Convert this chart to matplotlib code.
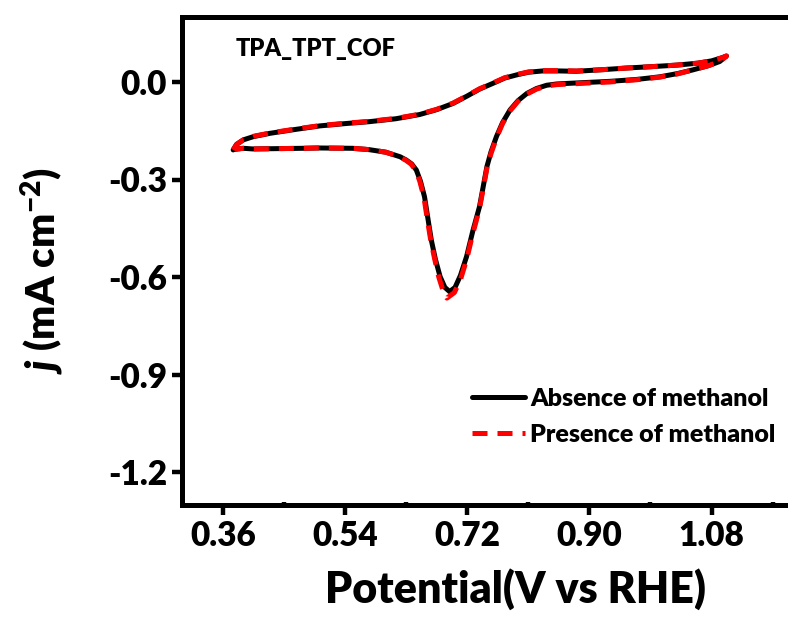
import matplotlib
matplotlib.use("Agg")
import matplotlib.pyplot as plt
from matplotlib.ticker import MultipleLocator, FormatStrFormatter

plt.rcParams['font.family'] = ['Lato', 'DejaVu Sans']
plt.rcParams['font.weight'] = 'heavy'
plt.rcParams['mathtext.fontset'] = 'custom'
plt.rcParams['mathtext.rm'] = 'Lato:heavy'
plt.rcParams['mathtext.it'] = 'Lato:italic:heavy'
plt.rcParams['mathtext.bf'] = 'Lato:heavy'
plt.rcParams['axes.unicode_minus'] = False

# Cyclic voltammogram of TPA_TPT_COF (potential in V vs RHE, current density in mA cm^-2)
potential_absence = [
    0.375, 0.380, 0.390, 0.405, 0.429, 0.460, 0.503, 0.540, 0.576, 0.615,
    0.650, 0.675, 0.699, 0.720, 0.738, 0.758, 0.775, 0.793, 0.810, 0.831,
    0.855, 0.881, 0.920, 0.955, 0.990, 1.029, 1.060, 1.080, 1.096, 1.102,
    1.092, 1.075, 1.052, 1.030, 1.004, 0.970, 0.930, 0.900, 0.871, 0.852,
    0.837, 0.822, 0.808, 0.795, 0.783, 0.772, 0.763, 0.755, 0.749, 0.738,
    0.728, 0.719, 0.710, 0.702, 0.694, 0.687, 0.680, 0.673, 0.667, 0.662,
    0.657, 0.651, 0.645, 0.638, 0.630, 0.621, 0.600, 0.575, 0.551, 0.500,
    0.478, 0.440, 0.404, 0.390, 0.378,
]
current_absence = [
    -0.209, -0.192, -0.178, -0.168, -0.158, -0.148, -0.135, -0.128, -0.122, -0.113,
    -0.100, -0.085, -0.066, -0.043, -0.022, -0.004, 0.012, 0.022, 0.030, 0.034,
    0.034, 0.033, 0.038, 0.043, 0.047, 0.052, 0.058, 0.065, 0.075, 0.080,
    0.063, 0.050, 0.037, 0.026, 0.016, 0.008, 0.002, -0.001, -0.004, -0.006,
    -0.010, -0.020, -0.035, -0.057, -0.086, -0.125, -0.168, -0.215, -0.260, -0.384,
    -0.460, -0.537, -0.595, -0.632, -0.645, -0.632, -0.599, -0.545, -0.486, -0.420,
    -0.353, -0.305, -0.271, -0.252, -0.240, -0.230, -0.216, -0.208, -0.204, -0.203,
    -0.204, -0.205, -0.206, -0.204, -0.207,
]

potential_presence = [
    0.375, 0.380, 0.390, 0.405, 0.429, 0.460, 0.503, 0.540, 0.576, 0.615,
    0.650, 0.675, 0.699, 0.720, 0.738, 0.758, 0.775, 0.793, 0.810, 0.831,
    0.855, 0.881, 0.920, 0.955, 0.990, 1.029, 1.060, 1.080, 1.096, 1.102,
    1.092, 1.075, 1.052, 1.030, 1.004, 0.970, 0.930, 0.900, 0.871, 0.852,
    0.837, 0.822, 0.808, 0.795, 0.783, 0.772, 0.763, 0.755, 0.749, 0.738,
    0.728, 0.719, 0.710, 0.701, 0.690, 0.684, 0.678, 0.672, 0.666, 0.661,
    0.656, 0.650, 0.644, 0.637, 0.629, 0.620, 0.600, 0.575, 0.551, 0.500,
    0.478, 0.440, 0.404, 0.390, 0.378,
]
current_presence = [
    -0.209, -0.192, -0.178, -0.167, -0.157, -0.147, -0.134, -0.127, -0.121, -0.112,
    -0.099, -0.084, -0.065, -0.042, -0.021, -0.003, 0.013, 0.023, 0.031, 0.035,
    0.035, 0.034, 0.038, 0.043, 0.047, 0.052, 0.058, 0.065, 0.075, 0.080,
    0.063, 0.050, 0.037, 0.025, 0.015, 0.007, 0.000, -0.003, -0.006, -0.008,
    -0.012, -0.022, -0.037, -0.059, -0.089, -0.128, -0.172, -0.220, -0.265, -0.390,
    -0.468, -0.547, -0.608, -0.648, -0.665, -0.640, -0.600, -0.545, -0.485, -0.420,
    -0.353, -0.305, -0.271, -0.252, -0.240, -0.230, -0.216, -0.208, -0.204, -0.203,
    -0.204, -0.205, -0.206, -0.204, -0.207,
]

x_ticks = [0.36, 0.54, 0.72, 0.90, 1.08]
y_ticks = [0.0, -0.3, -0.6, -0.9, -1.2]

fig = plt.figure(figsize=(7.88, 6.25), dpi=100)
ax = fig.add_axes([0.2313, 0.1928, 0.775, 0.78])

ax.plot(potential_absence, current_absence, color='black', lw=3.6,
        solid_joinstyle='round', solid_capstyle='round', label='Absence of methanol')
ax.plot(potential_presence, current_presence, color='#ff0000', lw=3.6,
        dashes=(3, 2), dash_capstyle='butt', label='Presence of methanol')

ax.set_xlim(0.30, 1.20)
ax.set_ylim(-1.30, 0.20)
ax.set_xticks(x_ticks)
ax.set_yticks(y_ticks)
ax.xaxis.set_minor_locator(MultipleLocator(0.09))
ax.yaxis.set_minor_locator(MultipleLocator(0.15))
ax.xaxis.set_major_formatter(FormatStrFormatter('%.2f'))
ax.yaxis.set_major_formatter(FormatStrFormatter('%.1f'))

for side in ax.spines.values():
    side.set_linewidth(3.6)
ax.tick_params(which='major', direction='out', length=7, width=3.2,
               labelsize=24, pad=4)
ax.tick_params(which='minor', direction='in', length=2, width=3.2)
ax.tick_params(top=False, right=False, which='both')

ax.set_xlabel('Potential(V vs RHE)', fontsize=31, fontweight='heavy')
ax.xaxis.set_label_coords(0.545, -0.13)
ax.set_ylabel(r'$\it{j}$ (mA cm$^{-2}$)', fontsize=29, fontweight='heavy')
ax.yaxis.set_label_coords(-0.19, 0.48)

ax.text(0.087, 0.935, 'TPA_TPT_COF', transform=ax.transAxes, fontsize=17,
        fontweight='heavy', ha='left', va='center')

ax.legend(loc='center left', bbox_to_anchor=(0.475, 0.18), frameon=False,
          fontsize=18, handlelength=2.1, handletextpad=0.2, labelspacing=0.55,
          borderaxespad=0, borderpad=0)

fig.savefig('out.png', dpi=100)
